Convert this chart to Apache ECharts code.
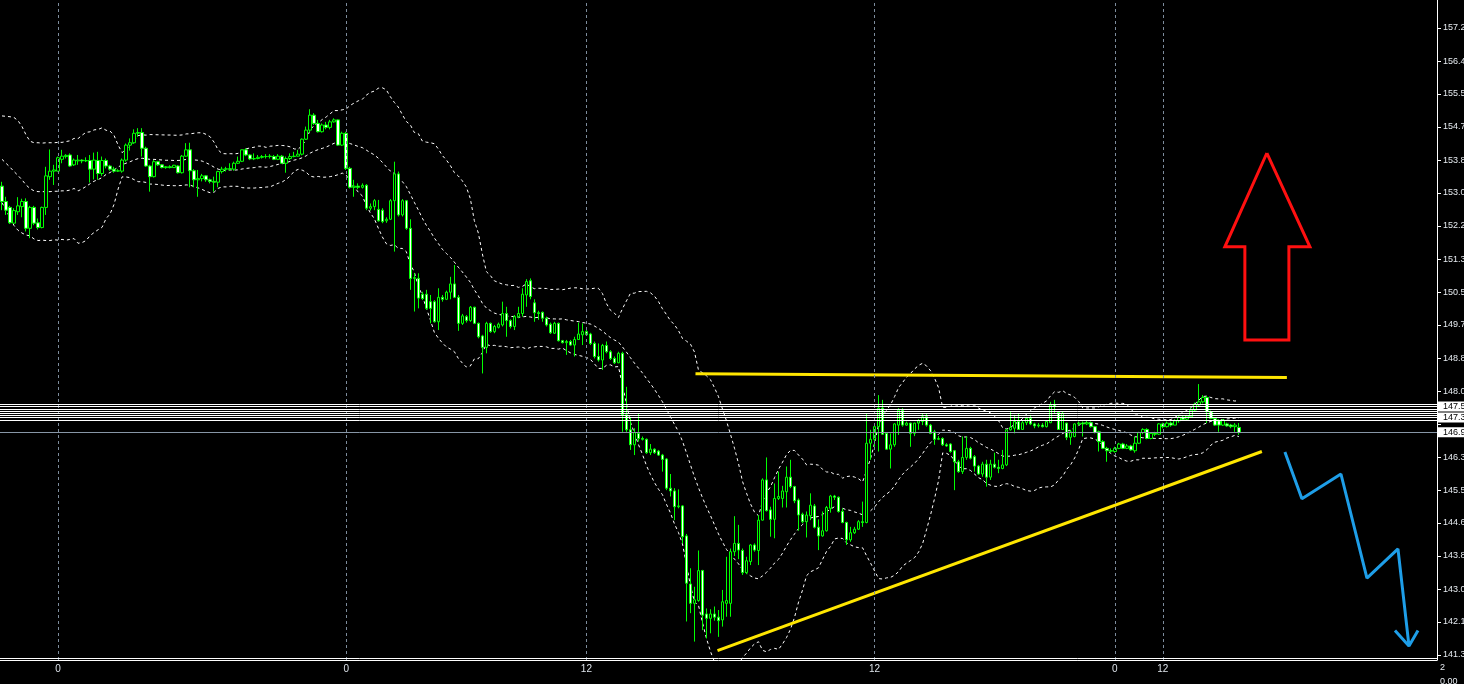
<!DOCTYPE html>
<html>
<head>
<meta charset="utf-8">
<title>USDJPY M20</title>
<script src="https://cdn.jsdelivr.net/npm/echarts@6/dist/echarts.min.js"></script>
<style>
  html, body { margin: 0; padding: 0; background: #000; }
  #chart { width: 1464px; height: 684px; }
</style>
</head>
<body>
<div id="chart"></div>
<script>
// price bars (one bar per 4px)
const opens = [
  153.19,152.80,152.65,152.25,152.54,152.67,152.80,152.12,152.65,152.26,
  152.14,152.65,153.43,153.57,153.57,153.87,153.94,153.98,153.73,153.83,
  153.85,153.83,153.84,153.62,153.84,153.51,153.84,153.70,153.62,153.57,
  153.57,153.85,154.23,154.29,154.53,154.55,154.15,153.70,153.43,153.81,
  153.73,153.66,153.68,153.66,153.70,153.53,153.95,154.11,153.58,153.35,
  153.38,153.45,153.35,153.31,153.29,153.56,153.62,153.63,153.62,153.77,
  153.82,154.11,153.98,153.88,153.89,153.92,153.94,153.94,153.94,153.87,
  153.95,153.77,153.89,153.94,153.95,154.00,154.38,154.61,154.99,154.78,
  154.57,154.74,154.68,154.82,154.87,154.23,154.53,153.64,153.16,153.19,
  153.16,153.21,152.63,152.67,152.60,152.58,152.31,152.35,152.82,153.50,
  152.46,152.82,152.12,150.85,150.85,150.45,150.45,150.26,150.26,149.75,
  150.37,150.32,150.50,150.71,150.37,149.71,149.88,149.78,150.12,149.71,
  149.39,149.10,149.71,149.50,149.61,149.67,149.96,149.78,149.63,149.88,
  149.96,150.43,150.79,150.23,149.98,149.99,149.84,149.69,149.46,149.71,
  149.27,149.22,149.25,149.16,149.30,149.42,149.50,149.44,149.20,148.87,
  148.78,149.15,148.99,148.82,148.71,148.95,147.39,147.01,146.63,146.92,
  146.79,146.77,146.43,146.52,146.47,146.37,146.27,145.53,145.46,145.06,
  145.08,144.32,143.10,142.61,142.68,143.44,142.34,142.23,142.34,142.26,
  142.19,142.61,142.61,143.92,144.13,143.95,143.39,143.67,144.09,143.95,
  144.72,145.74,144.98,144.74,145.27,145.27,145.44,145.81,145.57,145.23,
  144.87,144.68,144.83,145.08,144.54,144.32,144.45,145.02,145.33,145.30,
  144.94,144.66,144.22,144.40,144.49,144.68,144.66,146.67,146.77,147.09,
  147.56,146.92,146.52,146.63,147.13,147.51,147.13,147.18,146.92,147.18,
  147.22,147.34,147.13,146.96,146.77,146.79,146.63,146.65,146.48,146.20,
  145.95,146.31,146.54,146.33,146.09,145.89,146.14,145.81,146.14,146.06,
  146.03,146.12,147.01,147.05,147.22,147.02,147.19,147.30,147.16,147.11,
  147.13,147.09,147.19,147.64,147.45,147.02,147.18,146.82,146.84,147.16,
  147.18,147.16,147.19,147.09,146.96,146.71,146.54,146.48,146.46,146.54,
  146.65,146.54,146.60,146.48,146.67,146.94,147.02,146.79,146.92,146.90,
  147.16,147.09,147.18,147.13,147.24,147.33,147.28,147.34,147.51,147.64,
  147.72,147.83,147.47,147.30,147.24,147.13,147.16,147.13,147.09,147.07
];
const highs = [
  153.30,152.92,152.69,152.63,152.91,152.87,152.88,152.69,152.69,152.37,
  152.67,153.68,154.12,153.73,153.94,154.11,154.00,154.02,153.89,153.98,
  153.87,153.92,153.98,154.04,154.06,153.94,153.89,153.73,153.68,153.62,
  153.89,154.27,154.40,154.63,154.66,154.66,154.19,153.73,153.85,153.83,
  153.75,153.70,153.72,153.73,153.72,153.98,154.28,154.29,153.62,153.60,
  153.50,153.47,153.38,153.43,153.58,153.68,153.68,153.77,153.81,153.94,
  154.12,154.15,154.00,154.02,153.98,153.98,154.00,154.00,153.98,154.00,
  153.98,153.94,154.02,154.06,154.11,154.40,154.70,155.14,155.04,154.87,
  154.78,154.82,154.87,154.91,154.88,154.57,154.57,153.68,153.35,153.26,
  153.26,153.24,152.75,152.86,152.84,152.63,152.40,152.86,153.81,153.56,
  152.86,152.84,152.35,150.98,150.98,150.51,150.56,150.43,150.30,150.60,
  150.43,150.54,150.89,151.19,150.43,149.95,149.92,150.15,150.13,149.73,
  149.42,149.75,149.73,149.67,149.73,150.26,150.13,149.81,149.92,150.13,
  150.60,150.83,150.85,150.32,150.03,150.01,149.88,149.73,149.75,149.73,
  149.29,149.29,149.29,149.37,149.73,149.71,149.54,149.47,149.25,149.20,
  149.19,149.25,149.03,148.87,148.99,148.99,148.10,147.34,147.05,147.43,
  146.84,146.79,146.65,146.54,146.50,146.40,146.29,145.89,145.53,145.50,
  145.10,144.37,143.50,143.03,143.95,143.46,142.48,142.46,142.53,142.44,
  142.95,143.79,144.00,144.82,144.60,144.00,143.79,144.11,144.13,144.85,
  145.78,146.31,145.06,145.65,145.95,145.59,146.08,146.25,145.59,145.27,
  144.91,144.94,145.40,145.13,144.74,144.94,145.08,145.36,145.36,145.32,
  145.02,144.68,144.55,144.55,144.72,145.19,147.43,147.01,147.18,147.89,
  147.77,146.94,146.92,147.18,147.56,147.56,147.22,147.19,147.19,147.28,
  147.43,147.43,147.16,147.01,146.85,146.82,146.67,146.67,146.50,146.25,
  146.84,146.84,146.58,146.37,146.12,146.20,146.25,146.25,146.43,146.25,
  146.50,147.02,147.47,147.39,147.43,147.24,147.34,147.39,147.19,147.18,
  147.18,147.24,147.72,147.77,147.47,147.47,147.19,147.01,147.18,147.22,
  147.22,147.24,147.22,147.11,146.99,146.75,146.58,146.54,146.58,146.68,
  146.68,146.65,146.63,146.84,146.96,147.05,147.05,146.94,146.96,147.18,
  147.19,147.22,147.22,147.28,147.39,147.36,147.39,147.56,147.70,148.17,
  147.89,147.87,147.50,147.33,147.28,147.28,147.19,147.16,147.18,147.18
];
const lows = [
  152.58,152.46,152.23,152.23,152.46,152.40,152.04,151.87,152.20,152.09,
  152.12,152.46,153.35,153.22,153.56,153.77,153.89,153.68,153.70,153.73,
  153.77,153.80,153.28,153.36,153.35,153.45,153.64,153.58,153.53,153.55,
  153.53,153.81,154.09,154.26,154.44,153.94,153.68,153.05,153.41,153.70,
  153.64,153.63,153.64,153.65,153.51,153.51,153.94,153.16,153.16,152.92,
  153.31,153.30,153.26,153.05,153.16,153.51,153.56,153.58,153.58,153.75,
  153.80,153.95,153.85,153.85,153.87,153.89,153.89,153.89,153.85,153.85,
  153.75,153.53,153.85,153.92,153.94,153.97,154.36,154.55,154.74,154.55,
  154.55,154.63,154.63,154.80,154.21,154.21,153.60,153.13,152.92,153.11,
  153.13,152.58,152.57,152.58,152.29,152.25,152.26,152.33,151.53,152.42,
  152.42,152.08,150.56,150.01,150.09,150.30,150.05,149.71,149.73,149.54,
  150.26,150.30,150.32,150.35,149.52,149.67,149.73,149.75,149.69,149.33,
  148.44,148.95,149.47,149.46,149.58,149.63,149.37,149.58,149.54,149.84,
  149.88,150.13,150.32,149.75,149.80,149.75,149.63,149.44,149.44,149.25,
  149.20,148.91,149.14,148.87,149.29,149.16,149.39,149.16,148.82,148.74,
  148.53,148.95,148.78,148.68,148.70,146.96,146.96,146.50,146.37,146.71,
  146.74,146.40,146.37,146.40,146.35,145.95,145.48,145.32,144.72,145.02,
  144.13,142.15,142.36,141.64,142.65,141.93,141.72,141.85,142.17,141.76,
  142.02,142.27,142.27,143.81,143.73,143.33,143.35,143.58,143.92,143.58,
  144.71,144.94,144.30,144.26,145.23,145.04,145.04,145.53,145.15,144.45,
  144.64,144.28,144.72,144.51,143.96,144.30,144.43,144.91,145.23,144.91,
  144.64,144.09,144.17,144.37,144.47,144.55,144.64,146.25,146.58,146.46,
  146.88,146.50,146.03,146.58,146.88,147.09,147.11,146.58,146.85,147.01,
  147.13,147.09,146.90,146.63,146.75,146.60,146.58,146.43,145.48,145.92,
  145.89,146.25,146.26,145.95,145.87,145.82,145.57,145.74,146.03,145.91,
  146.01,146.09,146.99,146.92,147.01,147.01,147.13,147.13,147.05,147.07,
  147.07,147.07,147.18,147.43,147.01,147.01,146.75,146.63,146.82,147.11,
  146.84,147.13,147.07,146.92,146.46,146.52,146.20,146.43,146.43,146.52,
  146.52,146.52,146.48,146.43,146.65,146.90,146.77,146.77,146.85,146.88,
  147.05,147.07,147.09,147.13,147.19,147.24,147.26,147.33,147.47,147.61,
  147.68,147.18,147.28,147.11,146.96,147.11,147.09,147.05,146.96,146.88
];
const closes = [
  152.80,152.58,152.26,152.57,152.69,152.80,152.12,152.65,152.25,152.14,
  152.65,153.45,153.57,153.60,153.91,153.95,153.97,153.70,153.85,153.85,
  153.83,153.84,153.62,153.85,153.51,153.84,153.70,153.62,153.57,153.58,
  153.85,154.23,154.29,154.53,154.55,154.15,153.70,153.43,153.81,153.73,
  153.66,153.68,153.66,153.72,153.53,153.95,154.11,153.58,153.35,153.38,
  153.45,153.35,153.31,153.29,153.56,153.62,153.63,153.62,153.77,153.82,
  154.11,153.98,153.88,153.89,153.92,153.94,153.94,153.95,153.87,153.95,
  153.77,153.89,153.94,153.95,154.00,154.38,154.61,154.99,154.78,154.57,
  154.74,154.68,154.82,154.87,154.23,154.53,153.64,153.16,153.19,153.16,
  153.21,152.63,152.67,152.82,152.31,152.29,152.35,152.82,153.50,152.46,
  152.82,152.12,150.85,150.87,150.35,150.34,150.09,150.09,149.75,150.37,
  150.32,150.50,150.71,150.37,149.71,149.90,149.78,150.12,149.71,149.37,
  149.10,149.71,149.50,149.63,149.69,149.96,149.78,149.63,149.88,149.96,
  150.45,150.77,150.39,149.98,149.96,149.84,149.67,149.47,149.71,149.27,
  149.22,149.25,149.16,149.30,149.44,149.50,149.42,149.20,148.87,148.78,
  149.15,148.99,148.82,148.71,148.95,147.39,147.01,146.63,146.94,146.79,
  146.77,146.43,146.52,146.43,146.37,146.26,145.53,145.46,145.06,145.08,
  144.30,143.12,142.61,142.70,143.44,142.31,142.23,142.34,142.26,142.17,
  142.65,142.68,143.92,144.13,143.96,143.39,143.69,144.09,143.96,144.72,
  145.74,144.96,144.74,145.27,145.32,145.46,145.81,145.57,145.21,144.85,
  144.68,144.85,145.10,144.54,144.32,144.45,145.04,145.33,145.30,144.94,
  144.66,144.22,144.40,144.49,144.68,144.66,146.67,146.77,147.09,147.56,
  146.90,146.52,146.63,147.16,147.51,147.13,147.18,146.92,147.18,147.24,
  147.34,147.13,146.92,146.77,146.79,146.63,146.60,146.46,146.20,145.95,
  146.31,146.54,146.29,146.09,145.89,146.14,145.81,146.14,146.06,146.03,
  146.12,147.01,147.07,147.22,147.02,147.19,147.30,147.16,147.11,147.13,
  147.09,147.22,147.64,147.60,147.02,147.43,146.82,146.96,147.16,147.18,
  147.16,147.19,147.09,146.94,146.71,146.54,146.48,146.47,146.54,146.65,
  146.54,146.60,146.50,146.67,146.94,147.02,146.79,146.92,146.90,147.16,
  147.09,147.18,147.13,147.24,147.33,147.28,147.36,147.51,147.66,147.72,
  147.83,147.47,147.30,147.13,147.13,147.26,147.11,147.09,147.13,146.94
];

// bollinger band values for the first 19 bars (history before them is off screen)
const bbUpperLead = [154.97,154.96,154.95,154.93,154.85,154.70,154.49,154.33,154.29,154.29,
  154.28,154.29,154.29,154.29,154.30,154.30,154.32,154.34,154.40];
const bbMidLead = [153.87,153.77,153.67,153.56,153.46,153.35,153.22,153.13,153.07,153.05,
  153.05,153.05,153.05,153.06,153.06,153.07,153.07,153.09,153.13];
const bbLowerLead = [152.77,152.58,152.39,152.19,152.07,152.00,151.95,151.93,151.85,151.81,
  151.82,151.81,151.81,151.83,151.82,151.84,151.82,151.84,151.86];
const bbPeriod = 20;
const bbDev = 2;

// price scale
const yTickValues = [141.30,142.14,142.97,143.81,144.65,145.48,146.32,147.16,147.99,148.83,
  149.67,150.50,151.34,152.18,153.02,153.85,154.69,155.53,156.36,157.20];
const yTickLabels = ['141.3','142.1','143.0','143.8','144.6','145.5','146.3','','148.0','148.8',
  '149.7','150.5','151.3','152.2','153.0','153.8','154.7','155.5','156.4','157.2'];

// time labels (bar index -> text)
const timeTickIdx = [14, 86, 146, 218, 278, 290];
const timeTickLabels = ['0', '0', '12', '12', '0', '12'];

// horizontal levels
const levelPrices = [147.657, 147.599, 147.543, 147.488, 147.429, 147.373, 147.318, 147.259];
const levelLabels = ['', '147.5', '', '', '', '', '147.3', ''];
const bidPrice = 146.947;
const bidLabel = '146.9';
const bottomLevel = 141.216;

// hand-drawn objects, [bar index, price]
const resistLine = [[173.25, 148.43], [321.0, 148.34]];
const supportLine = [[178.75, 141.41], [314.75, 146.46]];
const upArrow = [[316.0, 154.03], [326.75, 151.65], [321.5, 151.65], [321.5, 149.29],
  [310.5, 149.29], [310.5, 151.65], [305.5, 151.65], [316.0, 154.03]];
const downPath = [[320.5, 146.45], [324.75, 145.26], [334.5, 145.89], [341.0, 143.25],
  [348.75, 143.99], [351.5, 141.53]];
const downHead = [[348.0, 141.92], [351.5, 141.53], [353.75, 141.92]];

const N = 359; // bar slots across the plot, incl. empty space on the right

const bbUpper = [], bbMid = [], bbLower = [];
for (let i = 0; i < closes.length; i++) {
  if (i < bbMidLead.length) {
    bbUpper.push(bbUpperLead[i]); bbMid.push(bbMidLead[i]); bbLower.push(bbLowerLead[i]);
    continue;
  }
  const win = closes.slice(Math.max(0, i - bbPeriod + 1), i + 1);
  const m = win.reduce((a, b) => a + b, 0) / win.length;
  const sd = Math.sqrt(win.reduce((a, b) => a + (b - m) * (b - m), 0) / win.length);
  bbMid.push(+m.toFixed(3));
  bbUpper.push(+(m + bbDev * sd).toFixed(3));
  bbLower.push(+(m - bbDev * sd).toFixed(3));
}

const slots = [];
for (let i = 0; i < N; i++) slots.push(String(i));
const candles = closes.map((c, i) => [opens[i], c, lows[i], highs[i]]);

const FONT = 'Liberation Sans';
const bandStyle = { color: '#ffffff', width: 1, type: [3, 3] };

function boxLabel(text) {
  return {
    show: true, position: 'end', distance: 0, formatter: text,
    color: '#000', backgroundColor: '#fff', fontSize: 9, fontFamily: FONT,
    padding: [1, 12, 0, 6]
  };
}

const chart = echarts.init(document.getElementById('chart'));
chart.setOption({
  backgroundColor: '#000000',
  animation: false,
  grid: { left: 0, right: 27, top: 0, bottom: 24, outerBoundsMode: 'none', containLabel: false },
  xAxis: [
    {
      type: 'category',
      data: slots,
      boundaryGap: true,
      axisLine: { show: true, onZero: false, lineStyle: { color: '#ffffff', width: 1 } },
      axisTick: { show: false },
      splitLine: { show: false },
      axisLabel: {
        interval: (idx) => timeTickIdx.includes(idx),
        formatter: (v, idx) => timeTickLabels[timeTickIdx.indexOf(idx)],
        color: '#dde3ea', fontSize: 10, fontFamily: FONT, margin: 4
      }
    },
    { type: 'value', min: -0.5, max: N - 0.5, show: false }
  ],
  yAxis: {
    type: 'value',
    position: 'right',
    min: 141.173,
    max: 157.91,
    axisLine: { show: true, onZero: false, lineStyle: { color: '#ffffff', width: 1 } },
    axisTick: { show: true, inside: false, length: 4, customValues: yTickValues,
      lineStyle: { color: '#ffffff' } },
    axisLabel: {
      customValues: yTickValues.filter((v, k) => yTickLabels[k] !== ''),
      formatter: (v) => {
        const k = yTickValues.findIndex((t) => Math.abs(t - v) < 1e-6);
        return k >= 0 ? yTickLabels[k] : '';
      },
      color: '#e6ebf0', fontSize: 9, fontFamily: FONT, margin: 6
    },
    splitLine: { show: false }
  },
  series: [
    {
      name: 'grid',
      type: 'line',
      xAxisIndex: 1,
      data: [],
      z: 1,
      markLine: {
        silent: true, symbol: 'none', animation: false,
        label: { show: false },
        lineStyle: { color: '#7d8c9c', width: 1, type: [3, 3] },
        data: timeTickIdx.map((i) => ({ xAxis: i }))
      }
    },
    { name: 'BB upper', type: 'line', data: bbUpper, showSymbol: false, lineStyle: bandStyle, z: 2 },
    { name: 'BB mid', type: 'line', data: bbMid, showSymbol: false, lineStyle: bandStyle, z: 2 },
    { name: 'BB lower', type: 'line', data: bbLower, showSymbol: false, lineStyle: bandStyle, z: 2 },
    {
      name: 'price',
      type: 'candlestick',
      data: candles,
      barWidth: 3,
      z: 3,
      itemStyle: {
        color: '#000000', color0: '#ffffff',
        borderColor: '#00ff00', borderColor0: '#00ff00', borderWidth: 1
      },
      markLine: {
        silent: true, symbol: 'none', animation: false,
        label: { show: false },
        lineStyle: { color: '#ffffff', width: 1, type: 'solid' },
        data: levelPrices.map((p, k) => ({
          yAxis: p,
          label: levelLabels[k] ? boxLabel(levelLabels[k]) : { show: false }
        })).concat([
          { yAxis: bidPrice, lineStyle: { color: '#8796a6' }, label: boxLabel(bidLabel) },
          { yAxis: bottomLevel }
        ])
      }
    },
    { name: 'resistance', type: 'line', xAxisIndex: 1, data: resistLine, showSymbol: false,
      lineStyle: { color: '#ffe600', width: 3 }, z: 4 },
    { name: 'support', type: 'line', xAxisIndex: 1, data: supportLine, showSymbol: false,
      lineStyle: { color: '#ffe600', width: 3 }, z: 4 },
    { name: 'up', type: 'line', xAxisIndex: 1, data: upArrow, showSymbol: false,
      lineStyle: { color: '#ff1010', width: 3, join: 'miter' }, z: 4 },
    { name: 'down', type: 'line', xAxisIndex: 1, data: downPath, showSymbol: false,
      lineStyle: { color: '#1e9ee8', width: 3 }, z: 4 },
    { name: 'down head', type: 'line', xAxisIndex: 1, data: downHead, showSymbol: false,
      lineStyle: { color: '#1e9ee8', width: 3 }, z: 4 }
  ],
  graphic: [
    { type: 'text', left: 1440, top: 663,
      style: { text: '2', fill: '#e6ebf0', fontSize: 9, fontFamily: FONT } },
    { type: 'text', left: 1440, top: 677,
      style: { text: '0.00', fill: '#e6ebf0', fontSize: 9, fontFamily: FONT } }
  ]
});
</script>
</body>
</html>
